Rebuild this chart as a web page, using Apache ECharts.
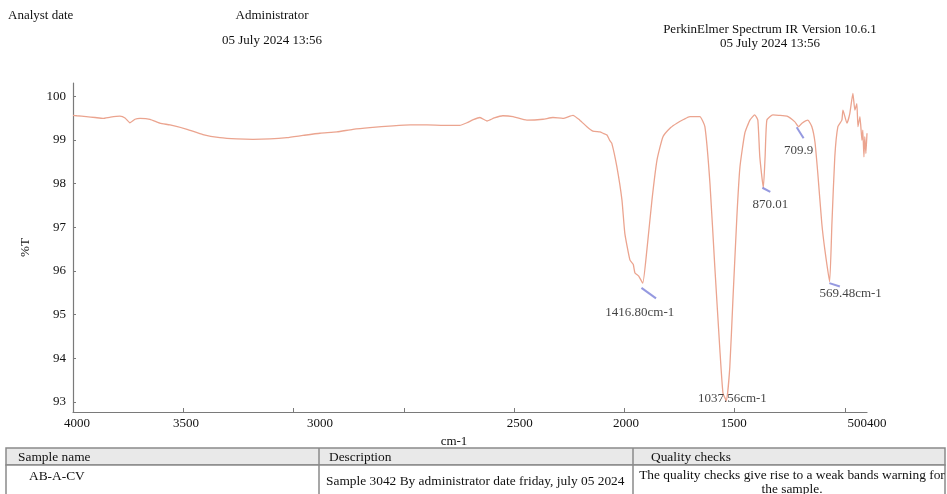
<!DOCTYPE html>
<html>
<head>
<meta charset="utf-8">
<script src="https://cdn.jsdelivr.net/npm/echarts@6/dist/echarts.min.js"></script>
<style>
html,body{margin:0;padding:0;background:#fff;}
#chart{width:947px;height:494px;}
</style>
</head>
<body>
<div id="chart"></div>
<script>
// Spectrum: wavenumber (cm-1) and %T
var wavenumber = [4000,3983,3940,3900,3864,3830,3787,3764,3742,3719,3696,3651,3606,3560,3483,3411,3334,3257,3184,3107,3030,2957,2880,2803,2731,2654,2549,2470,2395,2320,2246,2214,2185,2155,2123,2090,2051,2005,1942,1869,1824,1779,1733,1702,1670,1643,1611,1597,1579,1566,1557,1534,1511,1498,1475,1460,1452,1435,1416.8,1398,1375,1352,1325,1290,1262,1230,1203,1158,1135,1112,1090,1067,1053,1037.56,1022,1008,990,976,954,931,909,895,886,870.01,862,854,827,800,763,727,709.9,695,668,650,636,623,605,591,569.48,559,546,532,514,509,491,478,464,455,446,441,432,423,419,414,410,405,400];
var transmittance = [99.56,99.55,99.53,99.51,99.49,99.52,99.54,99.50,99.39,99.47,99.49,99.47,99.38,99.34,99.24,99.12,99.05,99.02,99.01,99.02,99.05,99.10,99.15,99.18,99.24,99.28,99.32,99.34,99.34,99.33,99.33,99.39,99.46,99.51,99.43,99.50,99.55,99.53,99.45,99.47,99.51,99.49,99.56,99.45,99.30,99.20,99.18,99.15,99.11,98.98,98.92,98.38,97.62,96.86,96.25,96.15,95.95,95.88,95.72,96.48,97.62,98.54,99.07,99.28,99.38,99.47,99.53,99.53,99.30,98.00,96.09,94.19,93.20,93.03,93.80,95.33,97.24,98.38,99.15,99.45,99.57,99.45,98.61,97.90,98.61,99.45,99.57,99.56,99.54,99.41,99.30,99.38,99.45,99.30,98.95,98.23,97.09,96.48,95.75,97.09,98.61,99.30,99.45,99.68,99.38,99.60,100.06,99.68,99.83,99.30,99.53,98.99,99.22,98.61,99.07,98.69,99.15];

// Peak annotations
var peakWavenumber = [1416.8, 1037.56, 870.01, 709.9, 569.48];
var peakTransmittance = [95.72, 93.03, 97.90, 99.30, 95.75];
var peakLabels = ['1416.80cm-1', '1037.56cm-1', '870.01', '709.9', '569.48cm-1'];

// Axis ticks and labels (as printed on the reference)
var yTicks = [93, 94, 95, 96, 97, 98, 99, 100];
var xTicks = [4000, 3500, 3000, 2500, 2000, 1500, 1000, 500];
var xLabelAt = [3982, 3488, 2880, 1974, 1493, 1004, 400];
var xLabelText = ['4000', '3500', '3000', '2500', '2000', '1500', '500400'];

// Header / table texts
var headerLeft = 'Analyst date';
var headerMid = ['Administrator', '05 July 2024 13:56'];
var headerRight = ['PerkinElmer Spectrum IR Version 10.6.1', '05 July 2024 13:56'];
var tableHeader = ['Sample name', 'Description', 'Quality checks'];
var tableRow = ['AB-A-CV', 'Sample 3042 By administrator date friday, july 05 2024', 'The quality checks give rise to a weak bands warning for\nthe sample.'];

var FONT = '"Liberation Serif", "Times New Roman", serif';
var spectrum = wavenumber.map(function (w, i) { return [w, transmittance[i]]; });

// per-peak marker styling (offset px, length px, rotation deg) and label offset
var markerStyle = [
  {off: [6, 10], len: 18, rot: -36, lab: [-3, 29]},
  {off: [0, 0], len: 0, rot: 0, lab: [6, -2]},
  {off: [3, 2], len: 9, rot: -28, lab: [7, 17]},
  {off: [1.5, 6], len: 13, rot: -58, lab: [0, 24]},
  {off: [5, 3], len: 11, rot: -18, lab: [21, 12]}
];
var markerData = peakWavenumber.map(function (w, i) {
  var s = markerStyle[i];
  return {value: [w, peakTransmittance[i]], symbolSize: [s.len, 2], symbolRotate: s.rot, symbolOffset: s.off};
});
var labelData = peakWavenumber.map(function (w, i) {
  var l = markerStyle[i].lab;
  return {value: [w, peakTransmittance[i]], label: {position: [l[0] + 1, l[1] + 1], formatter: peakLabels[i]}};
});

var labelMap = {};
xLabelAt.forEach(function (v, i) { labelMap[v] = xLabelText[i]; });

var axisColor = '#7a7a7a';
var chart = echarts.init(document.getElementById('chart'), null, {renderer: 'canvas'});
var tableTop = 448, headH = 17, rowH = 32;
var colX = [6, 319, 633, 945];
var TF = '13.4px ' + FONT;

var graphics = [
  {type: 'text', left: 8, top: 9, style: {text: headerLeft, font: '13px ' + FONT, fill: '#111'}},
  {type: 'text', x: 272, y: 16, style: {text: headerMid[0], font: '13px ' + FONT, fill: '#111', textAlign: 'center', textVerticalAlign: 'middle'}},
  {type: 'text', x: 272, y: 41, style: {text: headerMid[1], font: '13px ' + FONT, fill: '#111', textAlign: 'center', textVerticalAlign: 'middle'}},
  {type: 'text', x: 770, y: 30, style: {text: headerRight[0], font: '13px ' + FONT, fill: '#111', textAlign: 'center', textVerticalAlign: 'middle'}},
  {type: 'text', x: 770, y: 44, style: {text: headerRight[1], font: '13px ' + FONT, fill: '#111', textAlign: 'center', textVerticalAlign: 'middle'}},
  {type: 'rect', shape: {x: colX[0], y: tableTop, width: colX[3] - colX[0], height: headH}, style: {fill: '#e9e9e9', stroke: '#8a8a8a', lineWidth: 1.5}},
  {type: 'rect', shape: {x: colX[0], y: tableTop + headH, width: colX[3] - colX[0], height: rowH}, style: {fill: '#fff', stroke: '#8a8a8a', lineWidth: 1.5}},
  {type: 'line', shape: {x1: colX[1], y1: tableTop, x2: colX[1], y2: 494}, style: {stroke: '#8a8a8a', lineWidth: 1.5}},
  {type: 'line', shape: {x1: colX[2], y1: tableTop, x2: colX[2], y2: 494}, style: {stroke: '#8a8a8a', lineWidth: 1.5}},
  {type: 'text', x: 18, y: tableTop + headH / 2 + 1, style: {text: tableHeader[0], font: TF, fill: '#111', textVerticalAlign: 'middle'}},
  {type: 'text', x: 329, y: tableTop + headH / 2 + 1, style: {text: tableHeader[1], font: TF, fill: '#111', textVerticalAlign: 'middle'}},
  {type: 'text', x: 651, y: tableTop + headH / 2 + 1, style: {text: tableHeader[2], font: TF, fill: '#111', textVerticalAlign: 'middle'}},
  {type: 'text', x: 29, y: 476, style: {text: tableRow[0], font: TF, fill: '#111', textVerticalAlign: 'middle'}},
  {type: 'text', x: 326, y: 481, style: {text: tableRow[1], font: TF, fill: '#111', textVerticalAlign: 'middle'}},
  {type: 'text', x: 792, y: 482, style: {text: tableRow[2], font: TF, fill: '#111', textAlign: 'center', textVerticalAlign: 'middle', lineHeight: 14}}
];

chart.setOption({
  animation: false,
  backgroundColor: '#fff',
  grid: {left: 73, right: 80, top: 83, bottom: 82, containLabel: false},
  xAxis: {
    type: 'value', inverse: true, min: 400, max: 4000,
    name: 'cm-1', nameLocation: 'middle', nameGap: 19,
    nameTextStyle: {fontFamily: FONT, fontSize: 13, color: '#111', padding: [0, 32, 0, 0]},
    axisLine: {show: true, onZero: false, lineStyle: {color: axisColor, width: 1.2}},
    axisTick: {show: true, inside: true, length: 4, customValues: xTicks, lineStyle: {color: axisColor}},
    axisLabel: {show: true, customValues: xLabelAt, margin: 5, fontFamily: FONT, fontSize: 13, color: '#111',
      formatter: function (v) { return labelMap[v] !== undefined ? labelMap[v] : ''; }},
    splitLine: {show: false}
  },
  yAxis: {
    type: 'value', min: 92.77, max: 100.3,
    name: '%T', nameLocation: 'middle', nameGap: 41,
    nameTextStyle: {fontFamily: FONT, fontSize: 13, color: '#111', padding: [0, 0, 0, 0]},
    axisLine: {show: true, lineStyle: {color: axisColor, width: 1.2}},
    axisTick: {show: true, inside: true, length: 3, customValues: yTicks, lineStyle: {color: axisColor}},
    axisLabel: {show: true, customValues: yTicks, margin: 7, fontFamily: FONT, fontSize: 13, color: '#111'},
    splitLine: {show: false}
  },
  series: [
    {type: 'line', data: spectrum, showSymbol: false, smooth: 0.15, lineStyle: {color: '#eba48f', width: 1.3}, z: 2},
    {type: 'scatter', data: markerData, symbol: 'rect', itemStyle: {color: '#7b80d8'}, z: 3, silent: true},
    {type: 'scatter', data: labelData, symbol: 'circle', symbolSize: 2, itemStyle: {color: 'rgba(0,0,0,0)'},
      label: {show: true, align: 'center', verticalAlign: 'middle', fontFamily: FONT, fontSize: 13, color: '#111'}, labelLayout: {hideOverlap: false}, z: 4, silent: true}
  ],
  graphic: graphics
});
</script>
</body>
</html>
